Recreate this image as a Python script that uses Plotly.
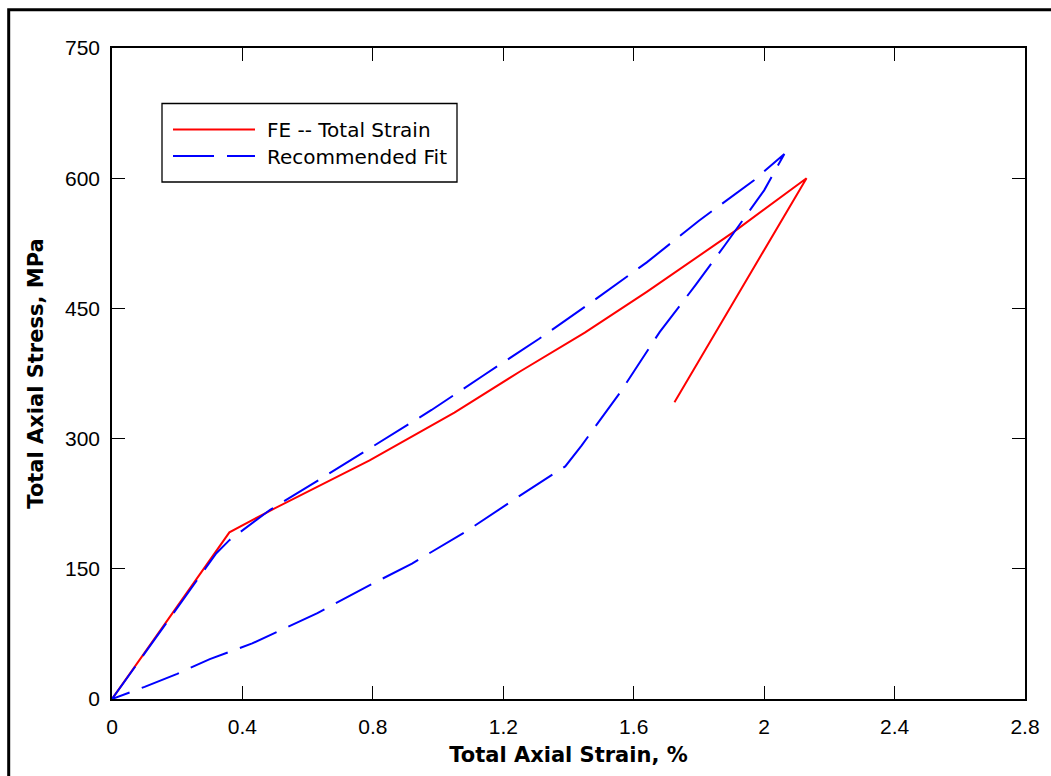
import plotly.graph_objects as go

# FE -- Total Strain (loading then unloading)
fe_strain = [0.0, 0.36, 0.49, 0.79, 1.05, 1.25, 1.45, 1.64, 1.91, 2.13, 1.725]
fe_stress = [0, 192, 218, 275, 330, 377, 422, 469, 539, 600, 342]

# Recommended Fit (loading then unloading)
fit_strain = [0.0, 0.32, 0.36, 0.485, 0.65, 0.81, 0.98, 1.14, 1.31, 1.47, 1.64, 1.80, 1.97, 2.062,
              2.0, 1.88, 1.79, 1.68, 1.56, 1.44, 1.39, 1.25, 1.09, 0.92, 0.80, 0.63, 0.55, 0.43, 0.30, 0.20, 0.10, 0.0]
fit_stress = [0, 168, 183, 218, 256, 293, 333, 373, 415, 457, 503, 551, 598, 628,
              586, 523, 477, 423, 354, 292, 268, 234, 194, 156, 133, 99, 85, 64, 46, 29, 14, 0]

x_ticks = [0, 0.4, 0.8, 1.2, 1.6, 2.0, 2.4, 2.8]
x_tick_labels = ["0", "0.4", "0.8", "1.2", "1.6", "2", "2.4", "2.8"]
y_ticks = [0, 150, 300, 450, 600, 750]
y_tick_labels = ["0", "150", "300", "450", "600", "750"]

series_names = ["FE -- Total Strain", "Recommended Fit"]

FONT = "Liberation Sans, Arial, Helvetica, sans-serif"
WIDE = "DejaVu Sans, Verdana, sans-serif"

fig = go.Figure()
fig.add_trace(go.Scatter(x=fe_strain, y=fe_stress, mode="lines", name=series_names[0],
                         line=dict(color="#ff0000", width=2), showlegend=False))
fig.add_trace(go.Scatter(x=fit_strain, y=fit_stress, mode="lines", name=series_names[1],
                         line=dict(color="#0000ff", width=2, dash="40px,13px"), showlegend=False))

W, H = 1051, 776
L, R, T, B = 112, 26, 48, 77
pw, ph = W - L - R, H - T - B

def px(x):
    return (x - L) / pw

def py(y):
    return (H - B - y) / ph

shapes = [
    # outer frame
    dict(type="rect", xref="paper", yref="paper", x0=px(8.7), x1=px(1070), y0=py(9.7), y1=py(800),
         line=dict(color="black", width=3), fillcolor="rgba(0,0,0,0)", layer="above"),
    # legend box
    dict(type="rect", xref="paper", yref="paper", x0=px(162), x1=px(457), y0=py(103.5), y1=py(182),
         line=dict(color="black", width=1.3), fillcolor="white", layer="above"),
    dict(type="line", xref="paper", yref="paper", x0=px(173), x1=px(255), y0=py(129.5), y1=py(129.5),
         line=dict(color="#ff0000", width=2), layer="above"),
    dict(type="line", xref="paper", yref="paper", x0=px(173), x1=px(255), y0=py(156), y1=py(156),
         line=dict(color="#0000ff", width=2, dash="41px,13px"), layer="above"),
]

annotations = [
    dict(xref="paper", yref="paper", x=px(265), y=py(130), xanchor="left", yanchor="middle",
         text=series_names[0], showarrow=False, font=dict(family=WIDE, size=20, color="black")),
    dict(xref="paper", yref="paper", x=px(265), y=py(157), xanchor="left", yanchor="middle",
         text=series_names[1], showarrow=False, font=dict(family=WIDE, size=20, color="black")),
]

axis_common = dict(showline=True, linecolor="black", linewidth=1.5, mirror="ticks",
                   ticks="inside", ticklen=13, tickwidth=1.3, tickcolor="black",
                   showgrid=False, zeroline=False,
                   tickfont=dict(family=FONT, size=21, color="black"))

fig.update_layout(
    width=W, height=H,
    margin=dict(l=L, r=R, t=T, b=B),
    paper_bgcolor="white", plot_bgcolor="white",
    font=dict(family=FONT, color="black"),
    xaxis=dict(range=[0, 2.8], tickvals=x_ticks, ticktext=x_tick_labels,
               title=dict(text="<b>Total Axial Strain, %</b>", font=dict(family=WIDE, size=21), standoff=10),
               ticklabelstandoff=8, **axis_common),
    yaxis=dict(range=[0, 750], tickvals=y_ticks, ticktext=y_tick_labels,
               title=dict(text="<b>Total Axial Stress, MPa</b>", font=dict(family=WIDE, size=21), standoff=16),
               ticklabelstandoff=6, **axis_common),
    shapes=shapes, annotations=annotations, showlegend=False,
)

fig.write_html("out.html")
